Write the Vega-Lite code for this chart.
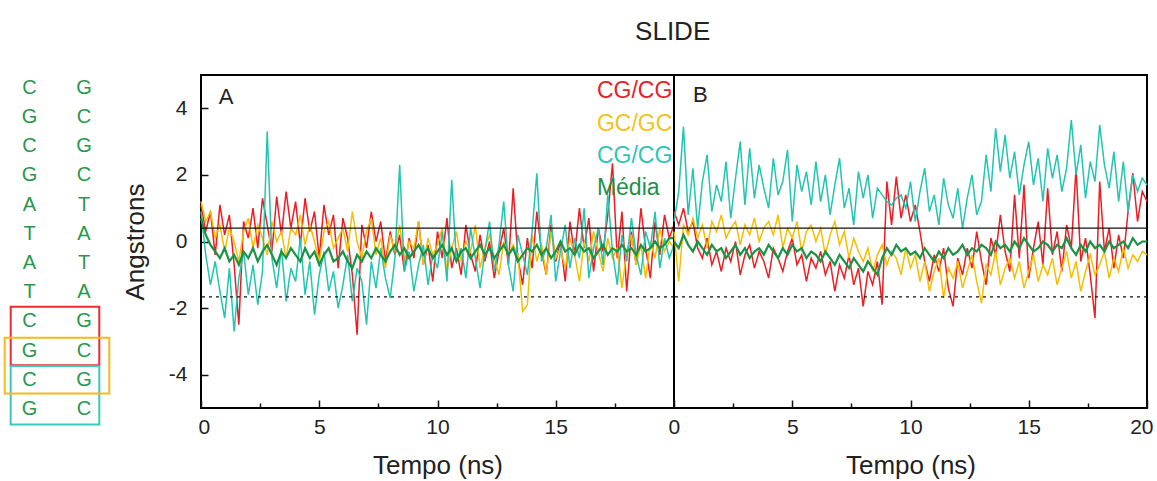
{
  "$schema": "https://vega.github.io/schema/vega-lite/v6.json",
  "padding": {"left": 0, "top": 19, "right": 5, "bottom": 0},
  "bounds": "flush",
  "spacing": 86,
  "config": {
    "font": "Liberation Sans",
    "view": {"stroke": "black", "strokeWidth": 2},
    "axis": {"labelColor": "#222", "titleColor": "#222", "tickColor": "#111", "titleFontWeight": "normal", "grid": false, "domain": false}
  },
  "datasets": {
    "A": [
      {"t":0,"red":1.1,"yel":1.2,"cyan":0.9,"med":0.7},
      {"t":0.2,"red":0.3,"yel":0.6,"cyan":-0.4,"med":0.2},
      {"t":0.4,"red":0.9,"yel":0.9,"cyan":-1.3,"med":-0.1},
      {"t":0.6,"red":-0.4,"yel":0.1,"cyan":-0.6,"med":-0.3},
      {"t":0.8,"red":1.1,"yel":0.5,"cyan":-1.5,"med":-0.5},
      {"t":1.0,"red":0.2,"yel":-0.3,"cyan":-2.3,"med":-0.2},
      {"t":1.2,"red":0.8,"yel":0.4,"cyan":-0.8,"med":-0.6},
      {"t":1.4,"red":-0.7,"yel":0.0,"cyan":-2.7,"med":-0.4},
      {"t":1.6,"red":-2.5,"yel":-0.6,"cyan":-1.1,"med":-0.7},
      {"t":1.8,"red":0.6,"yel":0.3,"cyan":-0.3,"med":-0.3},
      {"t":2.0,"red":0.1,"yel":0.7,"cyan":-1.6,"med":-0.5},
      {"t":2.2,"red":1.0,"yel":-0.2,"cyan":-0.7,"med":-0.2},
      {"t":2.4,"red":-0.2,"yel":0.5,"cyan":-1.9,"med":-0.6},
      {"t":2.6,"red":1.3,"yel":0.1,"cyan":-0.9,"med":-0.3},
      {"t":2.8,"red":0.5,"yel":-0.4,"cyan":3.3,"med":-0.1},
      {"t":3.0,"red":-0.3,"yel":0.6,"cyan":-0.5,"med":-0.4},
      {"t":3.2,"red":1.35,"yel":0.0,"cyan":-1.4,"med":-0.7},
      {"t":3.4,"red":0.2,"yel":0.3,"cyan":-0.2,"med":-0.3},
      {"t":3.6,"red":1.5,"yel":-0.5,"cyan":-1.8,"med":-0.5},
      {"t":3.8,"red":0.4,"yel":0.4,"cyan":-0.8,"med":-0.2},
      {"t":4.0,"red":1.2,"yel":0.2,"cyan":-1.2,"med":-0.4},
      {"t":4.2,"red":-0.1,"yel":0.8,"cyan":0.1,"med":-0.6},
      {"t":4.4,"red":1.3,"yel":-0.1,"cyan":-1.6,"med":-0.2},
      {"t":4.6,"red":0.3,"yel":0.5,"cyan":-0.6,"med":-0.5},
      {"t":4.8,"red":0.9,"yel":0.0,"cyan":-2.2,"med":-0.3},
      {"t":5.0,"red":-0.5,"yel":-0.6,"cyan":-1.0,"med":-0.7},
      {"t":5.2,"red":1.1,"yel":0.3,"cyan":-0.3,"med":-0.4},
      {"t":5.4,"red":0.2,"yel":0.6,"cyan":-1.5,"med":-0.2},
      {"t":5.6,"red":0.8,"yel":-0.2,"cyan":-0.9,"med":-0.6},
      {"t":5.8,"red":-0.8,"yel":0.1,"cyan":-2.0,"med":-0.5},
      {"t":6.0,"red":0.7,"yel":0.4,"cyan":-1.3,"med":-0.3},
      {"t":6.2,"red":0.1,"yel":-0.3,"cyan":-0.4,"med":-0.6},
      {"t":6.4,"red":-1.0,"yel":0.9,"cyan":-1.8,"med":-0.8},
      {"t":6.6,"red":-2.8,"yel":0.0,"cyan":-0.8,"med":-0.4},
      {"t":6.8,"red":0.5,"yel":-0.5,"cyan":-1.2,"med":-0.6},
      {"t":7.0,"red":-0.2,"yel":0.3,"cyan":-2.5,"med":-0.3},
      {"t":7.2,"red":0.9,"yel":0.7,"cyan":-0.6,"med":-0.5},
      {"t":7.4,"red":0.0,"yel":-0.4,"cyan":-1.4,"med":-0.2},
      {"t":7.6,"red":0.6,"yel":0.1,"cyan":-0.2,"med":-0.4},
      {"t":7.8,"red":-0.6,"yel":-0.8,"cyan":-1.1,"med":-0.6},
      {"t":8.0,"red":0.3,"yel":0.2,"cyan":-1.7,"med":-0.3},
      {"t":8.2,"red":-0.4,"yel":-0.3,"cyan":-0.5,"med":-0.1},
      {"t":8.4,"red":0.2,"yel":0.5,"cyan":2.3,"med":-0.4},
      {"t":8.6,"red":-0.9,"yel":-0.6,"cyan":-0.9,"med":-0.2},
      {"t":8.8,"red":0.1,"yel":0.0,"cyan":-0.3,"med":-0.5},
      {"t":9.0,"red":-0.5,"yel":-0.2,"cyan":-1.5,"med":-0.3},
      {"t":9.2,"red":0.6,"yel":0.6,"cyan":-0.7,"med":-0.1},
      {"t":9.4,"red":-0.7,"yel":-0.7,"cyan":-0.1,"med":-0.4},
      {"t":9.6,"red":-0.1,"yel":0.1,"cyan":-1.3,"med":-0.2},
      {"t":9.8,"red":-1.2,"yel":-0.4,"cyan":-0.4,"med":-0.5},
      {"t":10.0,"red":0.3,"yel":-0.1,"cyan":-0.8,"med":-0.3},
      {"t":10.2,"red":-0.5,"yel":0.4,"cyan":0.3,"med":-0.1},
      {"t":10.4,"red":0.7,"yel":-0.9,"cyan":-1.2,"med":-0.4},
      {"t":10.6,"red":-0.8,"yel":-0.2,"cyan":1.85,"med":-0.2},
      {"t":10.8,"red":-0.2,"yel":0.3,"cyan":-0.6,"med":-0.6},
      {"t":11.0,"red":-1.0,"yel":-0.6,"cyan":-0.2,"med":-0.3},
      {"t":11.2,"red":0.5,"yel":0.0,"cyan":-1.1,"med":-0.2},
      {"t":11.4,"red":-0.4,"yel":-0.3,"cyan":0.4,"med":-0.5},
      {"t":11.6,"red":-0.9,"yel":0.5,"cyan":-0.5,"med":-0.3},
      {"t":11.8,"red":0.2,"yel":-0.8,"cyan":-1.4,"med":-0.1},
      {"t":12.0,"red":-0.6,"yel":-0.2,"cyan":-0.3,"med":-0.4},
      {"t":12.2,"red":0.0,"yel":0.2,"cyan":0.6,"med":-0.2},
      {"t":12.4,"red":-1.1,"yel":-0.5,"cyan":-0.9,"med":-0.5},
      {"t":12.6,"red":-0.3,"yel":-1.0,"cyan":-0.1,"med":-0.3},
      {"t":12.8,"red":0.4,"yel":0.0,"cyan":1.2,"med":-0.1},
      {"t":13.0,"red":-0.7,"yel":-0.4,"cyan":-0.7,"med":-0.4},
      {"t":13.2,"red":1.6,"yel":-0.1,"cyan":-1.5,"med":-0.2},
      {"t":13.4,"red":-0.5,"yel":-0.4,"cyan":0.2,"med":-0.6},
      {"t":13.6,"red":-1.3,"yel":-2.1,"cyan":-0.4,"med":-0.4},
      {"t":13.8,"red":0.1,"yel":-1.9,"cyan":-1.0,"med":-0.2},
      {"t":14.0,"red":-0.8,"yel":0.2,"cyan":0.3,"med":-0.3},
      {"t":14.2,"red":0.9,"yel":-0.6,"cyan":2.05,"med":-0.1},
      {"t":14.4,"red":-0.3,"yel":-0.1,"cyan":-0.6,"med":-0.4},
      {"t":14.6,"red":-1.0,"yel":-1.0,"cyan":-0.2,"med":-0.2},
      {"t":14.8,"red":0.5,"yel":0.3,"cyan":0.8,"med":-0.5},
      {"t":15.0,"red":-0.6,"yel":-0.5,"cyan":-1.2,"med":-0.3},
      {"t":15.2,"red":0.0,"yel":-0.2,"cyan":-0.3,"med":0.0},
      {"t":15.4,"red":-1.2,"yel":-0.8,"cyan":0.5,"med":-0.3},
      {"t":15.6,"red":0.6,"yel":0.1,"cyan":-0.8,"med":-0.2},
      {"t":15.8,"red":-0.4,"yel":-0.4,"cyan":0.1,"med":-0.4},
      {"t":16.0,"red":1.0,"yel":-1.2,"cyan":-0.5,"med":-0.1},
      {"t":16.2,"red":-0.2,"yel":0.0,"cyan":1.0,"med":-0.3},
      {"t":16.4,"red":0.7,"yel":-0.6,"cyan":-1.1,"med":-0.2},
      {"t":16.6,"red":-0.9,"yel":0.3,"cyan":-0.2,"med":-0.5},
      {"t":16.8,"red":0.4,"yel":-0.3,"cyan":0.4,"med":-0.3},
      {"t":17.0,"red":-0.3,"yel":-0.9,"cyan":-0.7,"med":-0.1},
      {"t":17.2,"red":0.8,"yel":0.1,"cyan":1.4,"med":-0.4},
      {"t":17.4,"red":2.35,"yel":-0.5,"cyan":-0.3,"med":-0.2},
      {"t":17.6,"red":-0.5,"yel":-0.2,"cyan":-1.3,"med":-0.3},
      {"t":17.8,"red":0.9,"yel":-1.4,"cyan":0.2,"med":-0.1},
      {"t":18.0,"red":-1.5,"yel":-0.3,"cyan":-0.6,"med":-0.3},
      {"t":18.2,"red":0.3,"yel":0.2,"cyan":0.7,"med":-0.2},
      {"t":18.4,"red":-0.7,"yel":-0.7,"cyan":-0.4,"med":-0.4},
      {"t":18.6,"red":1.0,"yel":-0.1,"cyan":-1.0,"med":-0.1},
      {"t":18.8,"red":-0.2,"yel":-1.1,"cyan":0.3,"med":-0.3},
      {"t":19.0,"red":-1.1,"yel":0.0,"cyan":-0.2,"med":-0.2},
      {"t":19.2,"red":0.6,"yel":-0.5,"cyan":0.9,"med":0.0},
      {"t":19.4,"red":-0.4,"yel":0.4,"cyan":-0.8,"med":-0.2},
      {"t":19.6,"red":0.8,"yel":-0.3,"cyan":0.1,"med":-0.1},
      {"t":19.8,"red":0.1,"yel":0.0,"cyan":-0.5,"med":0.1},
      {"t":20.0,"red":0.5,"yel":-0.2,"cyan":-0.1,"med":0.1}
    ],
    "B": [
      {"t":0,"red":0.9,"yel":0.3,"cyan":0.6,"med":0.0},
      {"t":0.2,"red":0.5,"yel":-1.2,"cyan":1.5,"med":-0.2},
      {"t":0.4,"red":1.0,"yel":0.5,"cyan":3.45,"med":0.2},
      {"t":0.6,"red":0.3,"yel":0.2,"cyan":0.8,"med":-0.1},
      {"t":0.8,"red":0.6,"yel":0.7,"cyan":2.2,"med":-0.3},
      {"t":1.0,"red":-0.2,"yel":0.1,"cyan":0.4,"med":0.0},
      {"t":1.2,"red":-0.5,"yel":0.5,"cyan":1.8,"med":-0.2},
      {"t":1.4,"red":0.1,"yel":-0.2,"cyan":2.6,"med":-0.4},
      {"t":1.6,"red":-0.7,"yel":0.6,"cyan":0.9,"med":-0.1},
      {"t":1.8,"red":-0.3,"yel":0.3,"cyan":1.7,"med":-0.3},
      {"t":2.0,"red":-0.9,"yel":0.8,"cyan":1.2,"med":-0.2},
      {"t":2.2,"red":-0.2,"yel":0.1,"cyan":2.4,"med":-0.5},
      {"t":2.4,"red":-0.6,"yel":0.4,"cyan":0.7,"med":-0.3},
      {"t":2.6,"red":0.0,"yel":0.6,"cyan":1.9,"med":-0.1},
      {"t":2.8,"red":-1.0,"yel":-0.1,"cyan":3.0,"med":-0.4},
      {"t":3.0,"red":-0.4,"yel":0.5,"cyan":1.1,"med":-0.2},
      {"t":3.2,"red":-0.1,"yel":0.2,"cyan":2.8,"med":-0.5},
      {"t":3.4,"red":-0.8,"yel":0.7,"cyan":1.3,"med":-0.3},
      {"t":3.6,"red":-0.3,"yel":0.0,"cyan":2.3,"med":-0.2},
      {"t":3.8,"red":-0.6,"yel":0.4,"cyan":1.6,"med":-0.4},
      {"t":4.0,"red":-1.1,"yel":0.6,"cyan":1.0,"med":-0.1},
      {"t":4.2,"red":-0.2,"yel":0.2,"cyan":2.5,"med":-0.3},
      {"t":4.4,"red":-0.5,"yel":0.8,"cyan":1.4,"med":-0.5},
      {"t":4.6,"red":-0.9,"yel":-0.2,"cyan":1.8,"med":-0.2},
      {"t":4.8,"red":-0.3,"yel":0.4,"cyan":2.75,"med":-0.4},
      {"t":5.0,"red":0.1,"yel":0.1,"cyan":0.6,"med":-0.1},
      {"t":5.2,"red":-0.7,"yel":0.6,"cyan":2.3,"med":-0.3},
      {"t":5.4,"red":-0.4,"yel":-0.3,"cyan":1.5,"med":-0.2},
      {"t":5.6,"red":-1.2,"yel":0.3,"cyan":2.1,"med":-0.5},
      {"t":5.8,"red":-0.5,"yel":0.5,"cyan":1.1,"med":-0.3},
      {"t":6.0,"red":-0.8,"yel":0.0,"cyan":2.4,"med":-0.4},
      {"t":6.2,"red":-0.3,"yel":0.4,"cyan":1.2,"med":-0.6},
      {"t":6.4,"red":-1.0,"yel":-0.4,"cyan":2.0,"med":-0.3},
      {"t":6.6,"red":-0.6,"yel":0.2,"cyan":0.8,"med":-0.5},
      {"t":6.8,"red":-1.5,"yel":0.6,"cyan":1.7,"med":-0.7},
      {"t":7.0,"red":-0.7,"yel":-0.1,"cyan":2.5,"med":-0.4},
      {"t":7.2,"red":-1.1,"yel":0.3,"cyan":1.0,"med":-0.6},
      {"t":7.4,"red":-0.4,"yel":-0.5,"cyan":1.6,"med":-0.8},
      {"t":7.6,"red":-1.3,"yel":0.1,"cyan":0.5,"med":-0.5},
      {"t":7.8,"red":-0.8,"yel":-0.3,"cyan":2.1,"med":-0.7},
      {"t":8.0,"red":-1.95,"yel":-0.6,"cyan":1.3,"med":-0.9},
      {"t":8.2,"red":-0.9,"yel":-0.2,"cyan":2.0,"med":-0.6},
      {"t":8.4,"red":-1.3,"yel":-0.9,"cyan":0.7,"med":-0.8},
      {"t":8.6,"red":-0.6,"yel":-0.4,"cyan":1.6,"med":-1.0},
      {"t":8.8,"red":-1.9,"yel":-0.1,"cyan":1.4,"med":-0.5},
      {"t":9.0,"red":1.8,"yel":-0.7,"cyan":1.2,"med":-0.2},
      {"t":9.2,"red":0.5,"yel":-0.3,"cyan":1.1,"med":-0.4},
      {"t":9.4,"red":1.95,"yel":-0.5,"cyan":1.3,"med":-0.1},
      {"t":9.6,"red":0.7,"yel":-1.0,"cyan":1.4,"med":-0.3},
      {"t":9.8,"red":1.4,"yel":-0.2,"cyan":1.0,"med":-0.2},
      {"t":10.0,"red":0.6,"yel":-0.8,"cyan":1.8,"med":-0.4},
      {"t":10.2,"red":1.1,"yel":-0.4,"cyan":0.6,"med":-0.3},
      {"t":10.4,"red":0.3,"yel":-1.2,"cyan":1.5,"med":-0.5},
      {"t":10.6,"red":-0.6,"yel":-0.6,"cyan":2.2,"med":-0.2},
      {"t":10.8,"red":-1.2,"yel":-1.5,"cyan":0.9,"med":-0.4},
      {"t":11.0,"red":-0.4,"yel":-0.9,"cyan":1.4,"med":-0.6},
      {"t":11.2,"red":-0.9,"yel":-0.5,"cyan":0.5,"med":-0.3},
      {"t":11.4,"red":-0.2,"yel":-1.7,"cyan":1.9,"med":-0.5},
      {"t":11.6,"red":-1.4,"yel":-0.8,"cyan":1.1,"med":-0.2},
      {"t":11.8,"red":-1.95,"yel":-1.1,"cyan":0.7,"med":-0.4},
      {"t":12.0,"red":-0.5,"yel":-0.6,"cyan":1.6,"med":-0.3},
      {"t":12.2,"red":-1.0,"yel":-1.4,"cyan":0.4,"med":-0.1},
      {"t":12.4,"red":-0.2,"yel":-0.9,"cyan":1.3,"med":-0.4},
      {"t":12.6,"red":-0.8,"yel":-0.4,"cyan":2.0,"med":-0.2},
      {"t":12.8,"red":0.3,"yel":-1.2,"cyan":0.8,"med":-0.3},
      {"t":13.0,"red":-0.6,"yel":-1.85,"cyan":1.2,"med":-0.1},
      {"t":13.2,"red":-1.3,"yel":-0.7,"cyan":2.6,"med":-0.2},
      {"t":13.4,"red":0.1,"yel":-1.0,"cyan":1.5,"med":-0.4},
      {"t":13.6,"red":-0.4,"yel":-0.3,"cyan":3.4,"med":0.0},
      {"t":13.8,"red":0.8,"yel":-1.3,"cyan":2.1,"med":-0.2},
      {"t":14.0,"red":-0.3,"yel":-0.8,"cyan":3.2,"med":-0.1},
      {"t":14.2,"red":-0.9,"yel":-0.5,"cyan":1.9,"med":-0.3},
      {"t":14.4,"red":1.4,"yel":-1.1,"cyan":2.7,"med":0.0},
      {"t":14.6,"red":-0.5,"yel":-0.6,"cyan":1.4,"med":-0.2},
      {"t":14.8,"red":1.7,"yel":-1.4,"cyan":2.3,"med":0.1},
      {"t":15.0,"red":-1.1,"yel":-0.9,"cyan":3.0,"med":-0.1},
      {"t":15.2,"red":-0.2,"yel":-0.4,"cyan":1.7,"med":-0.3},
      {"t":15.4,"red":0.6,"yel":-1.2,"cyan":2.5,"med":-0.2},
      {"t":15.6,"red":-0.7,"yel":-0.7,"cyan":1.2,"med":0.0},
      {"t":15.8,"red":1.6,"yel":-1.0,"cyan":2.8,"med":-0.1},
      {"t":16.0,"red":-0.4,"yel":-0.5,"cyan":1.9,"med":-0.3},
      {"t":16.2,"red":0.3,"yel":-1.3,"cyan":2.6,"med":-0.1},
      {"t":16.4,"red":-0.9,"yel":-0.8,"cyan":1.5,"med":-0.2},
      {"t":16.6,"red":0.5,"yel":-0.3,"cyan":2.2,"med":0.1},
      {"t":16.8,"red":-0.2,"yel":-1.1,"cyan":3.65,"med":-0.2},
      {"t":17.0,"red":2.2,"yel":-0.6,"cyan":2.0,"med":-0.4},
      {"t":17.2,"red":-0.6,"yel":-1.5,"cyan":2.9,"med":-0.1},
      {"t":17.4,"red":0.1,"yel":-0.9,"cyan":1.3,"med":-0.3},
      {"t":17.6,"red":-1.0,"yel":-0.4,"cyan":2.4,"med":0.0},
      {"t":17.8,"red":-2.3,"yel":-1.0,"cyan":1.8,"med":-0.2},
      {"t":18.0,"red":1.8,"yel":-0.7,"cyan":3.5,"med":-0.1},
      {"t":18.2,"red":-0.3,"yel":-0.3,"cyan":2.3,"med":-0.3},
      {"t":18.4,"red":0.4,"yel":-1.1,"cyan":1.6,"med":0.0},
      {"t":18.6,"red":-0.8,"yel":-0.5,"cyan":2.7,"med":-0.2},
      {"t":18.8,"red":0.2,"yel":-0.9,"cyan":1.2,"med":-0.1},
      {"t":19.0,"red":-0.5,"yel":-0.2,"cyan":2.4,"med":0.0},
      {"t":19.2,"red":0.9,"yel":-0.8,"cyan":0.9,"med":-0.2},
      {"t":19.4,"red":2.05,"yel":-0.4,"cyan":2.0,"med":0.1},
      {"t":19.6,"red":0.6,"yel":-0.6,"cyan":1.5,"med":-0.1},
      {"t":19.8,"red":1.5,"yel":-0.3,"cyan":1.9,"med":0.0},
      {"t":20.0,"red":1.2,"yel":-0.4,"cyan":1.7,"med":0.0}
    ],
    "pairs": [
      {"row":1,"left":"C","right":"G"},
      {"row":2,"left":"G","right":"C"},
      {"row":3,"left":"C","right":"G"},
      {"row":4,"left":"G","right":"C"},
      {"row":5,"left":"A","right":"T"},
      {"row":6,"left":"T","right":"A"},
      {"row":7,"left":"A","right":"T"},
      {"row":8,"left":"T","right":"A"},
      {"row":9,"left":"C","right":"G"},
      {"row":10,"left":"G","right":"C"},
      {"row":11,"left":"C","right":"G"},
      {"row":12,"left":"G","right":"C"}
    ],
    "one": [
      {"item":"annotation"}
    ]
  },
  "hconcat": [
    {
      "width": 115,
      "height": 333,
      "view": {"stroke": null},
      "layer": [
        {
          "data": {"name": "one"},
          "mark": {"type": "rect", "filled": false, "stroke": "#ec2a2e", "strokeWidth": 2},
          "encoding": {
            "x": {"datum": 10.7, "type": "quantitative", "scale": {"domain": [0, 115], "nice": false, "zero": false}, "axis": null},
            "x2": {"datum": 99.3},
            "y": {"datum": 8.5, "type": "quantitative", "scale": {"domain": [0.565, 11.965], "reverse": true, "nice": false, "zero": false}, "axis": null},
            "y2": {"datum": 10.5}
          }
        },
        {
          "data": {"name": "one"},
          "mark": {"type": "rect", "filled": false, "stroke": "#36cbb8", "strokeWidth": 2},
          "encoding": {
            "x": {"datum": 10.7, "type": "quantitative", "scale": {"domain": [0, 115], "nice": false, "zero": false}, "axis": null},
            "x2": {"datum": 99.3},
            "y": {"datum": 10.53, "type": "quantitative", "scale": {"domain": [0.565, 11.965], "reverse": true, "nice": false, "zero": false}, "axis": null},
            "y2": {"datum": 12.53}
          }
        },
        {
          "data": {"name": "one"},
          "mark": {"type": "rect", "filled": false, "stroke": "#f5b91a", "strokeWidth": 2},
          "encoding": {
            "x": {"datum": 4.7, "type": "quantitative", "scale": {"domain": [0, 115], "nice": false, "zero": false}, "axis": null},
            "x2": {"datum": 109.3},
            "y": {"datum": 9.56, "type": "quantitative", "scale": {"domain": [0.565, 11.965], "reverse": true, "nice": false, "zero": false}, "axis": null},
            "y2": {"datum": 11.47}
          }
        },
        {
          "data": {"name": "pairs"},
          "mark": {"type": "text", "fontSize": 20, "color": "#27984b", "align": "center", "baseline": "middle"},
          "encoding": {
            "x": {"datum": 29.5, "type": "quantitative", "scale": {"domain": [0, 115], "nice": false, "zero": false}, "axis": null},
            "y": {"field": "row", "type": "quantitative", "scale": {"domain": [0.565, 11.965], "reverse": true, "nice": false, "zero": false}, "axis": null},
            "text": {"field": "left"}
          }
        },
        {
          "data": {"name": "pairs"},
          "mark": {"type": "text", "fontSize": 20, "color": "#27984b", "align": "center", "baseline": "middle"},
          "encoding": {
            "x": {"datum": 84, "type": "quantitative", "scale": {"domain": [0, 115], "nice": false, "zero": false}, "axis": null},
            "y": {"field": "row", "type": "quantitative", "scale": {"domain": [0.565, 11.965], "reverse": true, "nice": false, "zero": false}, "axis": null},
            "text": {"field": "right"}
          }
        }
      ]
    },
    {
      "title": {"text": "SLIDE", "fontSize": 26, "fontWeight": "normal", "anchor": "middle", "offset": 29, "dx": 35, "color": "#222"},
      "bounds": "flush",
      "spacing": 0,
      "hconcat": [
        {
          "width": 473,
          "height": 333,
          "data": {"name": "A"},
          "layer": [
            {
              "mark": {"type": "line", "color": "#ee1d23", "strokeWidth": 1.5},
              "encoding": {
                "x": {"field": "t", "type": "quantitative", "scale": {"domain": [0, 20], "nice": false, "zero": false},
                  "axis": {"values": [0, 2.5, 5, 7.5, 10, 12.5, 15, 17.5],
                    "tickSize": {"condition": {"test": "datum.value % 5 === 0", "value": -8}, "value": -5},
                    "tickWidth": 1.5,
                    "labelExpr": "datum.value % 5 === 0 ? '' + datum.value : ''",
                    "labelFlush": true, "labelFlushOffset": 3,
                    "labelPadding": 16, "labelFontSize": 21,
                    "title": "Tempo (ns)", "titleFontSize": 26, "titlePadding": 15}},
                "y": {"field": "red", "type": "quantitative", "scale": {"domain": [-5, 5], "nice": false, "zero": false},
                  "axis": {"values": [-4, -2, 0, 2, 4], "tickSize": -7, "tickWidth": 1.5,
                    "labelExpr": "'' + datum.value", "labelPadding": 21, "labelFontSize": 21,
                    "title": "Angstrons", "titleFontSize": 26, "titlePadding": 20}}
              }
            },
            {
              "mark": {"type": "line", "color": "#f6be00", "strokeWidth": 1.5},
              "encoding": {
                "x": {"field": "t", "type": "quantitative", "scale": {"domain": [0, 20], "nice": false, "zero": false}},
                "y": {"field": "yel", "type": "quantitative", "scale": {"domain": [-5, 5], "nice": false, "zero": false}}
              }
            },
            {
              "mark": {"type": "line", "color": "#22c5b0", "strokeWidth": 1.5},
              "encoding": {
                "x": {"field": "t", "type": "quantitative", "scale": {"domain": [0, 20], "nice": false, "zero": false}},
                "y": {"field": "cyan", "type": "quantitative", "scale": {"domain": [-5, 5], "nice": false, "zero": false}}
              }
            },
            {
              "mark": {"type": "line", "color": "#1a9444", "strokeWidth": 2.2},
              "encoding": {
                "x": {"field": "t", "type": "quantitative", "scale": {"domain": [0, 20], "nice": false, "zero": false}},
                "y": {"field": "med", "type": "quantitative", "scale": {"domain": [-5, 5], "nice": false, "zero": false}}
              }
            },
            {
              "data": {"name": "one"},
              "mark": {"type": "rule", "color": "#111", "strokeWidth": 1.3},
              "encoding": {"y": {"datum": 0.4, "type": "quantitative", "scale": {"domain": [-5, 5], "nice": false, "zero": false}}}
            },
            {
              "data": {"name": "one"},
              "mark": {"type": "rule", "color": "#111", "strokeWidth": 1.2, "strokeDash": [3, 4]},
              "encoding": {"y": {"datum": -1.66, "type": "quantitative", "scale": {"domain": [-5, 5], "nice": false, "zero": false}}}
            },
            {
              "data": {"name": "one"},
              "mark": {"type": "text", "text": "A", "fontSize": 22, "align": "left", "baseline": "middle", "color": "#222"},
              "encoding": {
                "x": {"datum": 0.75, "type": "quantitative", "scale": {"domain": [0, 20], "nice": false, "zero": false}},
                "y": {"datum": 4.35, "type": "quantitative", "scale": {"domain": [-5, 5], "nice": false, "zero": false}}
              }
            },
            {
              "data": {"name": "one"},
              "mark": {"type": "text", "text": "CG/CG", "fontSize": 23, "align": "left", "baseline": "middle", "color": "#e8202a"},
              "encoding": {
                "x": {"datum": 16.74, "type": "quantitative", "scale": {"domain": [0, 20], "nice": false, "zero": false}},
                "y": {"datum": 4.52, "type": "quantitative", "scale": {"domain": [-5, 5], "nice": false, "zero": false}}
              }
            },
            {
              "data": {"name": "one"},
              "mark": {"type": "text", "text": "GC/GC", "fontSize": 23, "align": "left", "baseline": "middle", "color": "#f3c21b"},
              "encoding": {
                "x": {"datum": 16.74, "type": "quantitative", "scale": {"domain": [0, 20], "nice": false, "zero": false}},
                "y": {"datum": 3.53, "type": "quantitative", "scale": {"domain": [-5, 5], "nice": false, "zero": false}}
              }
            },
            {
              "data": {"name": "one"},
              "mark": {"type": "text", "text": "CG/CG", "fontSize": 23, "align": "left", "baseline": "middle", "color": "#2cc7b3"},
              "encoding": {
                "x": {"datum": 16.74, "type": "quantitative", "scale": {"domain": [0, 20], "nice": false, "zero": false}},
                "y": {"datum": 2.57, "type": "quantitative", "scale": {"domain": [-5, 5], "nice": false, "zero": false}}
              }
            },
            {
              "data": {"name": "one"},
              "mark": {"type": "text", "text": "Média", "fontSize": 23, "align": "left", "baseline": "middle", "color": "#1e9148"},
              "encoding": {
                "x": {"datum": 16.74, "type": "quantitative", "scale": {"domain": [0, 20], "nice": false, "zero": false}},
                "y": {"datum": 1.6, "type": "quantitative", "scale": {"domain": [-5, 5], "nice": false, "zero": false}}
              }
            }
          ]
        },
        {
          "width": 473,
          "height": 333,
          "data": {"name": "B"},
          "layer": [
            {
              "mark": {"type": "line", "color": "#ee1d23", "strokeWidth": 1.5},
              "encoding": {
                "x": {"field": "t", "type": "quantitative", "scale": {"domain": [0, 20], "nice": false, "zero": false},
                  "axis": {"values": [0, 2.5, 5, 7.5, 10, 12.5, 15, 17.5, 20],
                    "tickSize": {"condition": {"test": "datum.value % 5 === 0", "value": -8}, "value": -5},
                    "tickWidth": 1.5,
                    "labelExpr": "datum.value % 5 === 0 ? '' + datum.value : ''",
                    "labelFlush": true, "labelFlushOffset": 6,
                    "labelPadding": 16, "labelFontSize": 21,
                    "title": "Tempo (ns)", "titleFontSize": 26, "titlePadding": 15}},
                "y": {"field": "red", "type": "quantitative", "scale": {"domain": [-5, 5], "nice": false, "zero": false}, "axis": null}
              }
            },
            {
              "mark": {"type": "line", "color": "#f6be00", "strokeWidth": 1.5},
              "encoding": {
                "x": {"field": "t", "type": "quantitative", "scale": {"domain": [0, 20], "nice": false, "zero": false}},
                "y": {"field": "yel", "type": "quantitative", "scale": {"domain": [-5, 5], "nice": false, "zero": false}, "axis": null}
              }
            },
            {
              "mark": {"type": "line", "color": "#22c5b0", "strokeWidth": 1.5},
              "encoding": {
                "x": {"field": "t", "type": "quantitative", "scale": {"domain": [0, 20], "nice": false, "zero": false}},
                "y": {"field": "cyan", "type": "quantitative", "scale": {"domain": [-5, 5], "nice": false, "zero": false}, "axis": null}
              }
            },
            {
              "mark": {"type": "line", "color": "#1a9444", "strokeWidth": 2.2},
              "encoding": {
                "x": {"field": "t", "type": "quantitative", "scale": {"domain": [0, 20], "nice": false, "zero": false}},
                "y": {"field": "med", "type": "quantitative", "scale": {"domain": [-5, 5], "nice": false, "zero": false}, "axis": null}
              }
            },
            {
              "data": {"name": "one"},
              "mark": {"type": "rule", "color": "#111", "strokeWidth": 1.3},
              "encoding": {"y": {"datum": 0.4, "type": "quantitative", "scale": {"domain": [-5, 5], "nice": false, "zero": false}, "axis": null}}
            },
            {
              "data": {"name": "one"},
              "mark": {"type": "rule", "color": "#111", "strokeWidth": 1.2, "strokeDash": [3, 4]},
              "encoding": {"y": {"datum": -1.66, "type": "quantitative", "scale": {"domain": [-5, 5], "nice": false, "zero": false}, "axis": null}}
            },
            {
              "data": {"name": "one"},
              "mark": {"type": "text", "text": "B", "fontSize": 22, "align": "left", "baseline": "middle", "color": "#222"},
              "encoding": {
                "x": {"datum": 0.8, "type": "quantitative", "scale": {"domain": [0, 20], "nice": false, "zero": false}},
                "y": {"datum": 4.4, "type": "quantitative", "scale": {"domain": [-5, 5], "nice": false, "zero": false}, "axis": null}
              }
            }
          ]
        }
      ]
    }
  ]
}
